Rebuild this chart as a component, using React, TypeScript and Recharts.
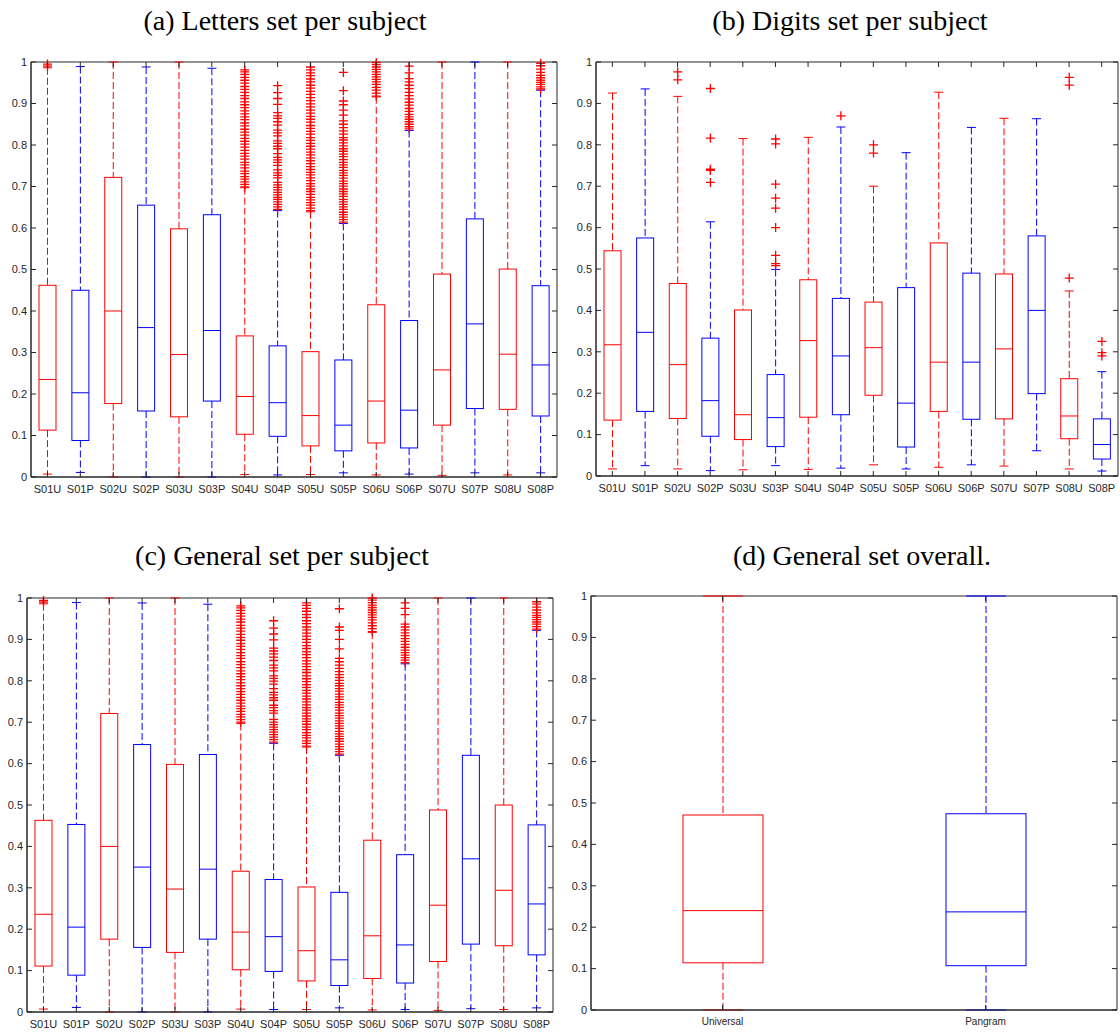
import React from 'react';
import { ComposedChart, Bar, XAxis, YAxis, ReferenceArea } from 'recharts';

const RED = '#ff0000';
const BLUE = '#0000ff';
const AX = '#262626';
const SANS = "'Liberation Sans', Arial, sans-serif";
const SERIF = "'Liberation Serif', 'Times New Roman', serif";

const subjects = ['S01U', 'S01P', 'S02U', 'S02P', 'S03U', 'S03P', 'S04U', 'S04P', 'S05U', 'S05P', 'S06U', 'S06P', 'S07U', 'S07P', 'S08U', 'S08P'];
const overallCats = ['Universal', 'Pangram'];
const yTicks = [0, 0.1, 0.2, 0.3, 0.4, 0.5, 0.6, 0.7, 0.8, 0.9, 1];

// (a) Letters set per subject
const lettersLow = [0.007, 0.011, 0, 0, 0, 0, 0.006, 0.005, 0.006, 0.01, 0.005, 0.007, 0.004, 0.01, 0.005, 0.01];
const lettersQ1 = [0.113, 0.088, 0.177, 0.159, 0.145, 0.183, 0.103, 0.098, 0.075, 0.063, 0.082, 0.07, 0.125, 0.165, 0.163, 0.147];
const lettersMed = [0.235, 0.203, 0.4, 0.36, 0.295, 0.353, 0.194, 0.179, 0.148, 0.125, 0.183, 0.161, 0.258, 0.369, 0.296, 0.27];
const lettersQ3 = [0.462, 0.45, 0.722, 0.655, 0.598, 0.632, 0.34, 0.316, 0.302, 0.282, 0.415, 0.377, 0.489, 0.622, 0.501, 0.461];
const lettersHigh = [0.986, 0.989, 1, 0.988, 1, 0.985, 0.697, 0.642, 0.639, 0.611, 0.916, 0.835, 1, 1, 1, 0.932];
const lettersOut = [
  [0.99, 0.995],
  [], [], [], [], [],
  [0.699, 0.705, 0.711, 0.718, 0.724, 0.731, 0.737, 0.745, 0.752, 0.758, 0.766, 0.773, 0.78, 0.787, 0.795, 0.802, 0.809, 0.816, 0.824, 0.831, 0.838, 0.846, 0.853, 0.861, 0.868, 0.875, 0.882, 0.89, 0.897, 0.904, 0.912, 0.919, 0.927, 0.934, 0.941, 0.949, 0.956, 0.963, 0.97, 0.976, 0.981],
  [0.645, 0.651, 0.657, 0.663, 0.669, 0.674, 0.68, 0.686, 0.692, 0.698, 0.704, 0.71, 0.721, 0.727, 0.733, 0.74, 0.751, 0.758, 0.764, 0.77, 0.779, 0.791, 0.797, 0.804, 0.81, 0.822, 0.829, 0.836, 0.848, 0.856, 0.864, 0.87, 0.878, 0.898, 0.912, 0.926, 0.943],
  [0.642, 0.648, 0.655, 0.661, 0.668, 0.674, 0.681, 0.688, 0.694, 0.701, 0.707, 0.714, 0.721, 0.728, 0.734, 0.741, 0.748, 0.755, 0.762, 0.769, 0.776, 0.783, 0.79, 0.797, 0.804, 0.811, 0.818, 0.826, 0.833, 0.84, 0.847, 0.855, 0.862, 0.869, 0.877, 0.884, 0.892, 0.899, 0.907, 0.914, 0.922, 0.929, 0.937, 0.944, 0.952, 0.959, 0.967, 0.974, 0.981, 0.988],
  [0.614, 0.62, 0.626, 0.632, 0.638, 0.645, 0.651, 0.657, 0.663, 0.669, 0.676, 0.682, 0.688, 0.694, 0.701, 0.707, 0.713, 0.72, 0.727, 0.733, 0.739, 0.746, 0.752, 0.758, 0.765, 0.772, 0.778, 0.785, 0.791, 0.798, 0.805, 0.812, 0.818, 0.826, 0.834, 0.842, 0.85, 0.858, 0.872, 0.884, 0.897, 0.906, 0.931, 0.975],
  [0.918, 0.925, 0.932, 0.939, 0.946, 0.952, 0.958, 0.964, 0.97, 0.976, 0.982, 0.988, 0.994, 0.999],
  [0.839, 0.844, 0.85, 0.856, 0.862, 0.868, 0.874, 0.881, 0.888, 0.896, 0.903, 0.911, 0.919, 0.927, 0.936, 0.944, 0.952, 0.96, 0.974, 0.99],
  [], [], [],
  [0.935, 0.94, 0.946, 0.951, 0.956, 0.962, 0.968, 0.975, 0.983, 0.991, 0.997],
];

// (b) Digits set per subject
const digitsLow = [0.017, 0.025, 0.017, 0.013, 0.015, 0.025, 0.016, 0.019, 0.027, 0.017, 0.021, 0.027, 0.024, 0.061, 0.017, 0.012];
const digitsQ1 = [0.135, 0.156, 0.139, 0.096, 0.088, 0.071, 0.142, 0.148, 0.195, 0.07, 0.156, 0.137, 0.138, 0.199, 0.09, 0.041];
const digitsMed = [0.317, 0.347, 0.269, 0.182, 0.148, 0.141, 0.327, 0.29, 0.31, 0.176, 0.275, 0.275, 0.307, 0.4, 0.145, 0.076];
const digitsQ3 = [0.544, 0.575, 0.465, 0.333, 0.401, 0.245, 0.474, 0.429, 0.42, 0.455, 0.563, 0.49, 0.488, 0.58, 0.235, 0.138];
const digitsHigh = [0.925, 0.935, 0.917, 0.614, 0.815, 0.499, 0.818, 0.843, 0.7, 0.781, 0.927, 0.842, 0.864, 0.863, 0.447, 0.252];
const digitsOut = [
  [], [],
  [0.957, 0.976],
  [0.709, 0.738, 0.741, 0.816, 0.936],
  [],
  [0.508, 0.513, 0.533, 0.6, 0.647, 0.671, 0.705, 0.802, 0.814],
  [],
  [0.87],
  [0.78, 0.8],
  [], [], [], [], [],
  [0.478, 0.944, 0.963],
  [0.29, 0.298, 0.325],
];

// (c) General set per subject
const generalLow = [0.007, 0.011, 0, 0, 0, 0, 0.007, 0.006, 0.006, 0.01, 0.005, 0.006, 0.004, 0.008, 0.006, 0.01];
const generalQ1 = [0.111, 0.089, 0.176, 0.156, 0.144, 0.176, 0.102, 0.098, 0.075, 0.064, 0.081, 0.07, 0.122, 0.164, 0.16, 0.138];
const generalMed = [0.236, 0.205, 0.4, 0.35, 0.297, 0.345, 0.193, 0.182, 0.148, 0.126, 0.184, 0.162, 0.258, 0.37, 0.294, 0.261];
const generalQ3 = [0.463, 0.453, 0.721, 0.646, 0.598, 0.622, 0.34, 0.32, 0.302, 0.289, 0.415, 0.38, 0.488, 0.62, 0.5, 0.452];
const generalHigh = [0.986, 0.989, 1, 0.988, 1, 0.985, 0.697, 0.649, 0.64, 0.62, 0.917, 0.841, 1, 1, 1, 0.922];
const generalOut = [
  [0.99, 0.994],
  [], [], [], [], [],
  [0.7, 0.706, 0.713, 0.719, 0.726, 0.733, 0.739, 0.746, 0.753, 0.76, 0.767, 0.774, 0.781, 0.788, 0.795, 0.803, 0.81, 0.817, 0.824, 0.832, 0.839, 0.846, 0.854, 0.861, 0.868, 0.876, 0.883, 0.89, 0.898, 0.905, 0.912, 0.92, 0.927, 0.934, 0.942, 0.949, 0.956, 0.963, 0.97, 0.976, 0.981],
  [0.652, 0.658, 0.664, 0.67, 0.676, 0.682, 0.688, 0.694, 0.7, 0.707, 0.722, 0.728, 0.735, 0.741, 0.753, 0.759, 0.766, 0.772, 0.781, 0.792, 0.799, 0.806, 0.812, 0.824, 0.831, 0.838, 0.849, 0.857, 0.865, 0.872, 0.879, 0.899, 0.913, 0.927, 0.945],
  [0.642, 0.649, 0.655, 0.662, 0.668, 0.675, 0.682, 0.688, 0.695, 0.702, 0.708, 0.715, 0.722, 0.729, 0.735, 0.742, 0.749, 0.756, 0.763, 0.77, 0.777, 0.784, 0.791, 0.798, 0.805, 0.812, 0.82, 0.827, 0.834, 0.841, 0.848, 0.856, 0.863, 0.87, 0.878, 0.885, 0.893, 0.9, 0.908, 0.915, 0.923, 0.93, 0.938, 0.945, 0.953, 0.96, 0.968, 0.975, 0.982, 0.988],
  [0.623, 0.629, 0.635, 0.641, 0.647, 0.654, 0.66, 0.666, 0.672, 0.678, 0.685, 0.691, 0.697, 0.703, 0.71, 0.716, 0.722, 0.729, 0.736, 0.742, 0.748, 0.755, 0.761, 0.768, 0.775, 0.781, 0.788, 0.794, 0.801, 0.808, 0.815, 0.822, 0.83, 0.838, 0.846, 0.854, 0.877, 0.9, 0.922, 0.93, 0.974],
  [0.919, 0.926, 0.933, 0.94, 0.947, 0.953, 0.959, 0.965, 0.971, 0.977, 0.983, 0.989, 0.995, 1],
  [0.844, 0.85, 0.856, 0.862, 0.868, 0.874, 0.881, 0.888, 0.895, 0.902, 0.909, 0.916, 0.923, 0.93, 0.937, 0.96, 0.975, 0.988],
  [], [], [],
  [0.925, 0.931, 0.937, 0.942, 0.948, 0.953, 0.958, 0.964, 0.971, 0.978, 0.985, 0.991],
];

// (d) General set overall
const overallLow = [0, 0];
const overallQ1 = [0.114, 0.107];
const overallMed = [0.24, 0.237];
const overallQ3 = [0.471, 0.474];
const overallHigh = [1, 1];
const overallOut: number[][] = [[], []];

const subjectColors = subjects.map((s) => (s.endsWith('U') ? RED : BLUE));
const overallColors = [RED, BLUE];

const Y_W = 40;
const PAD_T = 8;
const PAD_R = 2;
const X_H = 26;
const TICK = 5;
const MARK = 4.5;

const BoxShape = (props: any) => {
  const { x, y, width, height, payload, capW } = props;
  const [lo, hi] = payload.range;
  const k = height / (hi - lo);
  const toY = (v: number) => y + (hi - v) * k;
  const cx = x + width / 2;
  const c = payload.color;
  const yq1 = toY(payload.q1);
  const yq3 = toY(payload.q3);
  const ym = toY(payload.med);
  const yb = y + height;
  return (
    <g>
      <line x1={cx} x2={cx} y1={y} y2={yq3} stroke={c} strokeDasharray="7 3" />
      <line x1={cx} x2={cx} y1={yq1} y2={yb} stroke={c} strokeDasharray="7 3" />
      <line x1={cx - capW / 2} x2={cx + capW / 2} y1={y} y2={y} stroke={c} />
      <line x1={cx - capW / 2} x2={cx + capW / 2} y1={yb} y2={yb} stroke={c} />
      <rect x={x} y={yq3} width={width} height={yq1 - yq3} fill="none" stroke={c} />
      <line x1={x} x2={x + width} y1={ym} y2={ym} stroke={c} />
      {payload.out.map((o: number, i: number) => {
        const oy = toY(o);
        return (
          <path
            key={i}
            d={`M${cx - MARK},${oy}H${cx + MARK}M${cx},${oy - MARK}V${oy + MARK}`}
            stroke={RED}
            strokeWidth={1.3}
            fill="none"
          />
        );
      })}
    </g>
  );
};

interface PanelProps {
  title: string;
  titleX: number;
  titleY: number;
  cats: string[];
  colors: string[];
  lo: number[];
  q1: number[];
  med: number[];
  q3: number[];
  hi: number[];
  out: number[][];
  plotLeft: number;
  plotTop: number;
  plotW: number;
  plotH: number;
  boxW: number;
  capW: number;
  xFont?: number;
}

const Panel: React.FC<PanelProps> = (p) => {
  const data = p.cats.map((c, i) => ({
    cat: c,
    range: [p.lo[i], p.hi[i]],
    q1: p.q1[i],
    med: p.med[i],
    q3: p.q3[i],
    out: p.out[i],
    color: p.colors[i],
  }));
  const axisY = PAD_T + p.plotH;

  const renderXTick = (t: any) => (
    <g>
      <line x1={t.x} x2={t.x} y1={axisY} y2={axisY - TICK} stroke={AX} />
      <line x1={t.x} x2={t.x} y1={PAD_T} y2={PAD_T + TICK} stroke={AX} />
      <text x={t.x} y={axisY + 8} dy="0.71em" textAnchor="middle" fill={AX} fontFamily={SANS} fontSize={p.xFont || 11}>
        {t.payload.value}
      </text>
    </g>
  );

  const renderYTick = (t: any) => (
    <g>
      <line x1={Y_W} x2={Y_W + TICK} y1={t.y} y2={t.y} stroke={AX} />
      <line x1={Y_W + p.plotW - TICK} x2={Y_W + p.plotW} y1={t.y} y2={t.y} stroke={AX} />
      <text x={Y_W - 4} y={t.y} dy="0.35em" textAnchor="end" fill={AX} fontFamily={SANS} fontSize={11}>
        {String(t.payload.value)}
      </text>
    </g>
  );

  return (
    <>
      <div
        style={{
          position: 'absolute',
          left: p.titleX - 300,
          top: p.titleY,
          width: 600,
          textAlign: 'center',
          fontFamily: SERIF,
          fontSize: 28,
          lineHeight: '30px',
          color: '#000',
        }}
      >
        {p.title}
      </div>
      <div style={{ position: 'absolute', left: p.plotLeft - Y_W, top: p.plotTop - PAD_T }}>
        <ComposedChart
          width={Y_W + p.plotW + PAD_R}
          height={PAD_T + p.plotH + X_H}
          data={data}
          margin={{ top: PAD_T, right: PAD_R, bottom: 0, left: 0 }}
        >
          <XAxis
            dataKey="cat"
            interval={0}
            height={X_H}
            axisLine={{ stroke: AX }}
            tickLine={false}
            tickSize={0}
            tick={renderXTick}
          />
          <YAxis
            type="number"
            domain={[0, 1]}
            ticks={yTicks}
            interval={0}
            width={Y_W}
            axisLine={{ stroke: AX }}
            tickLine={false}
            tickSize={0}
            tick={renderYTick}
          />
          <ReferenceArea y1={0} y2={1} fill="none" fillOpacity={0} stroke={AX} strokeWidth={1} ifOverflow="visible" />
          <Bar
            dataKey="range"
            barSize={p.boxW}
            isAnimationActive={false}
            shape={(s: any) => <BoxShape {...s} capW={p.capW} />}
          />
        </ComposedChart>
      </div>
    </>
  );
};

export default function App() {
  return (
    <div style={{ position: 'absolute', left: 0, top: 0, width: 1120, height: 1032, background: '#fff', overflow: 'hidden' }}>
      <Panel
        title="(a) Letters set per subject"
        titleX={285}
        titleY={6}
        cats={subjects}
        colors={subjectColors}
        lo={lettersLow}
        q1={lettersQ1}
        med={lettersMed}
        q3={lettersQ3}
        hi={lettersHigh}
        out={lettersOut}
        plotLeft={31}
        plotTop={62}
        plotW={526}
        plotH={415}
        boxW={17}
        capW={9}
      />
      <Panel
        title="(b) Digits set per subject"
        titleX={850}
        titleY={6}
        cats={subjects}
        colors={subjectColors}
        lo={digitsLow}
        q1={digitsQ1}
        med={digitsMed}
        q3={digitsQ3}
        hi={digitsHigh}
        out={digitsOut}
        plotLeft={596}
        plotTop={62}
        plotW={522}
        plotH={414}
        boxW={17}
        capW={9}
      />
      <Panel
        title="(c) General set per subject"
        titleX={282}
        titleY={541}
        cats={subjects}
        colors={subjectColors}
        lo={generalLow}
        q1={generalQ1}
        med={generalMed}
        q3={generalQ3}
        hi={generalHigh}
        out={generalOut}
        plotLeft={27}
        plotTop={598}
        plotW={526}
        plotH={414}
        boxW={17}
        capW={9}
      />
      <Panel
        title="(d) General set overall."
        titleX={862}
        titleY={541}
        cats={overallCats}
        colors={overallColors}
        lo={overallLow}
        q1={overallQ1}
        med={overallMed}
        q3={overallQ3}
        hi={overallHigh}
        out={overallOut}
        plotLeft={591}
        plotTop={596}
        plotW={526}
        plotH={414}
        boxW={80}
        capW={40}
        xFont={10}
      />
    </div>
  );
}
